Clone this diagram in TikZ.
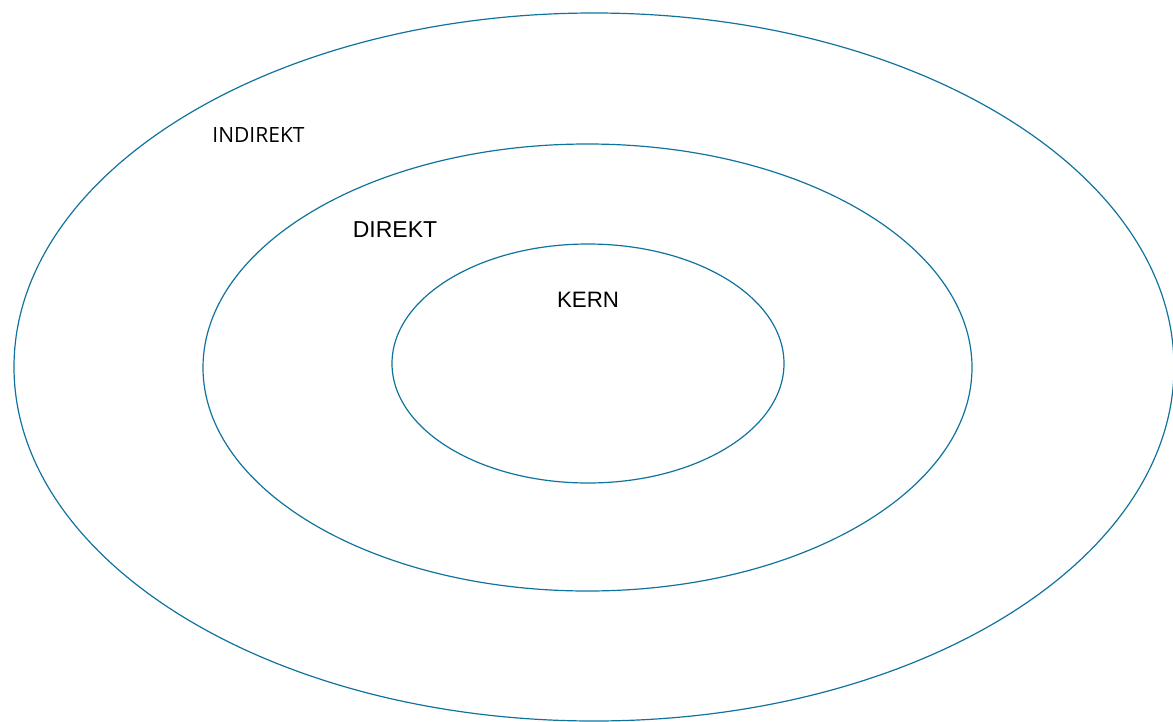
\documentclass[tikz,border=0pt]{standalone}
\usepackage{fontspec}
\setmainfont{Liberation Sans}
\newfontfamily\opensans{Open Sans}
\definecolor{ring}{HTML}{10739E}
\begin{document}
\begin{tikzpicture}[x=1pt,y=-1pt,
  ringline/.style={draw=ring,line width=1.2pt},
  lbl/.style={inner sep=0pt}]
\useasboundingbox (0,0) rectangle (1173,721);
\draw[ringline] (594,367) ellipse [x radius=580, y radius=354];
\draw[ringline] (587.5,367.5) ellipse [x radius=384.5, y radius=223.5];
\draw[ringline] (588,363.5) ellipse [x radius=196, y radius=119.5];
\node[lbl,font=\opensans\fontsize{21}{25}\selectfont] (indirekt) at (258.5,135) {INDIREKT};
\node[lbl,font=\fontsize{23}{27}\selectfont] (direkt) at (395,230) {DIREKT};
\node[lbl,font=\fontsize{22.3}{26}\selectfont] (kern) at (588,300) {KERN};
\end{tikzpicture}
\end{document}
